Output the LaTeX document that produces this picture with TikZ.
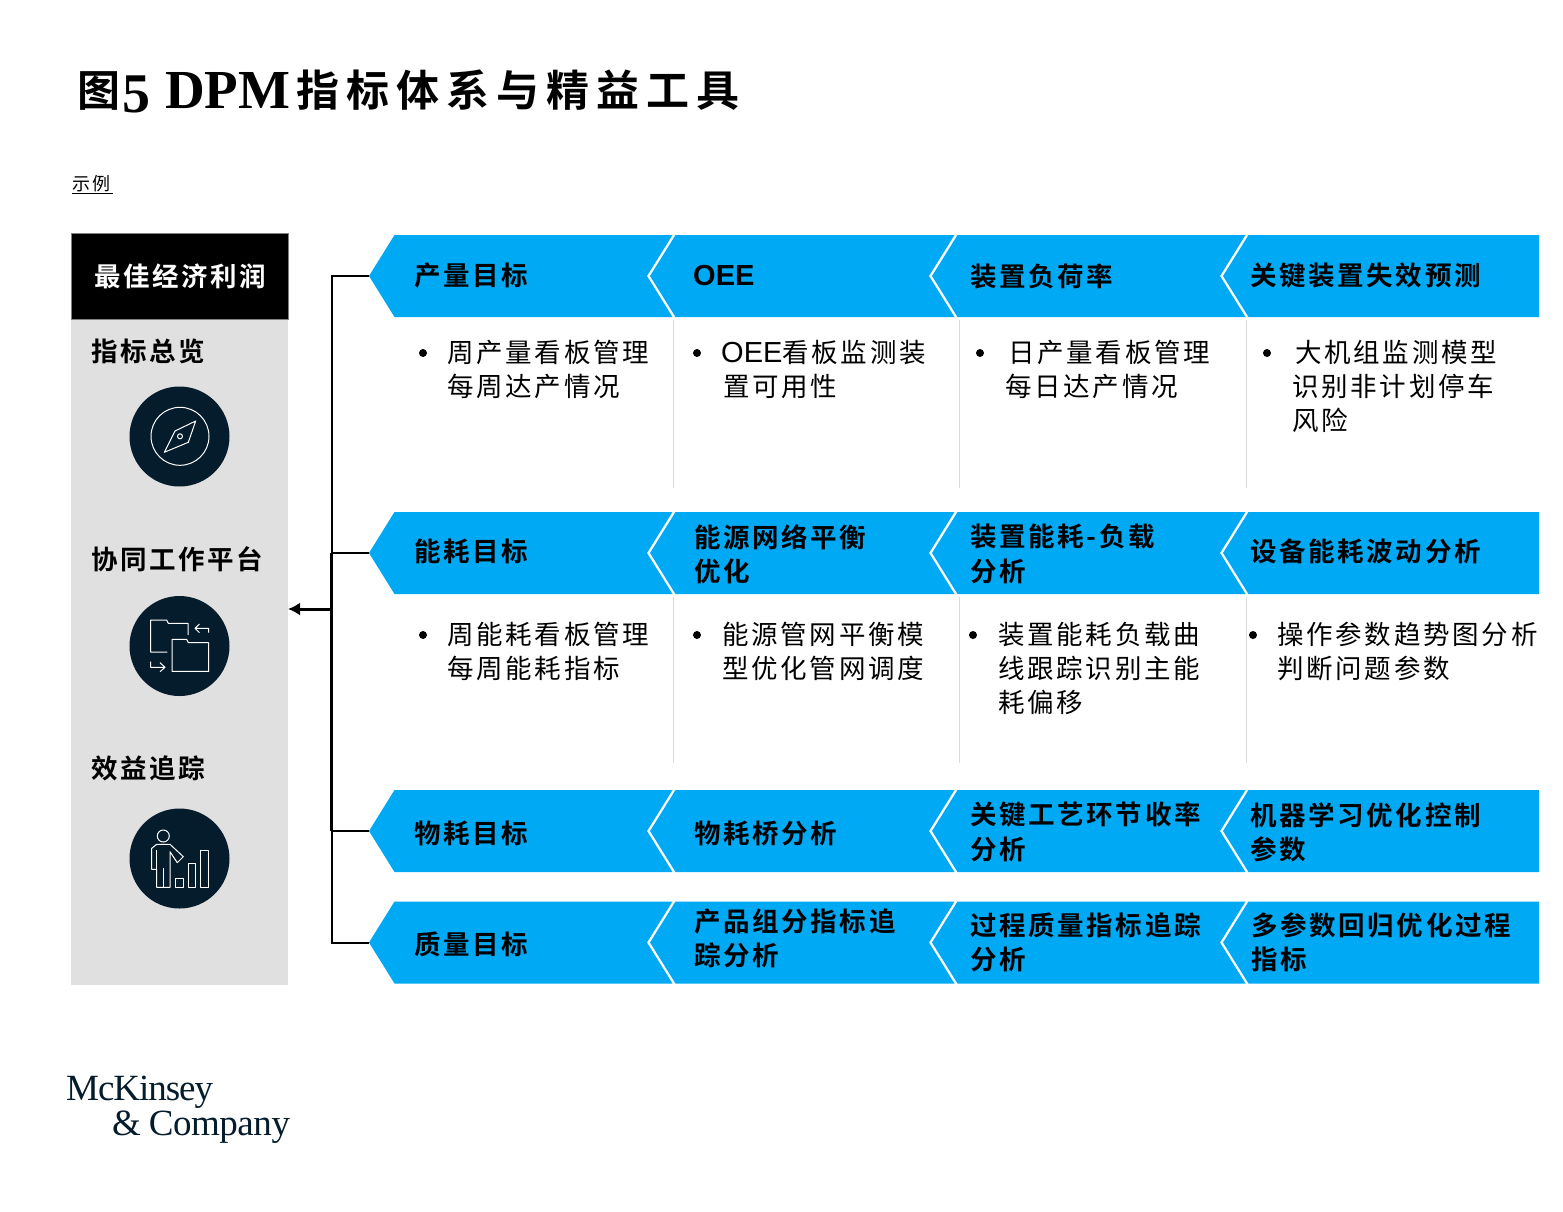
\documentclass[tikz,border=0pt]{standalone}
\usepackage{fontspec}
\usetikzlibrary{arrows.meta}
\newfontfamily\cjb[LetterSpace=10]{Noto Sans CJK SC Bold}
\newfontfamily\cjr[LetterSpace=10.3]{Noto Sans CJK SC}
\newfontfamily\cjt{Noto Sans CJK SC Bold}
\newfontfamily\cjs[LetterSpace=11]{Noto Sans CJK SC}
\newfontfamily\arb{Liberation Sans Bold}
\newfontfamily\arr{Liberation Sans}
\newfontfamily\lsb{Liberation Serif Bold}
\newfontfamily\logofont[LetterSpace=-2.8]{Liberation Serif}
\newfontfamily\logofontb[LetterSpace=-1.2]{Liberation Serif}
\definecolor{brandblue}{HTML}{00A9F4}
\definecolor{navy}{HTML}{051C2C}
\definecolor{panel}{HTML}{E0E0E0}
\definecolor{rulegray}{HTML}{D9D9D9}
\tikzset{
  txt/.style={anchor=west,inner sep=0pt,align=left},
  head/.style={txt,font=\cjb\fontsize{26.5}{34.3}\selectfont},
  body/.style={txt,font=\cjr\fontsize{26.5}{34.3}\selectfont},
  bul/.style={circle,fill=black,inner sep=0pt,minimum size=8pt},
  divider/.style={draw=rulegray,line width=1pt},
  badge/.style={circle,fill=navy,inner sep=0pt,minimum size=100pt},
  ico/.style={draw=white,line width=1pt,line join=round},
  wire/.style={draw=black,line width=2pt}
}
\newcommand\chev[4]{%
  \fill[brandblue] (#2,#4+41) -- (#2+25.5,#4) -- (#3+25.5,#4) -- (#3,#4+41) -- (#3+25.5,#4+82) -- (#2+25.5,#4+82) -- cycle;
  \coordinate (#1) at (#2,#4+41);}
\newcommand\lastchev[3]{%
  \fill[brandblue] (#2,#3+41) -- (#2+25.5,#3) -- (1539,#3) -- (1539,#3+82) -- (#2+25.5,#3+82) -- cycle;
  \coordinate (#1) at (#2,#3+41);}
\newcommand\chevrow[2]{%
  \chev{#1a}{369}{647}{#2}\chev{#1b}{650}{929}{#2}\chev{#1c}{932}{1220}{#2}\lastchev{#1d}{1223}{#2}}
\begin{document}
\begin{tikzpicture}[x=1pt,y=-1pt]
\useasboundingbox (0,0) rectangle (1563,1211);
% title
\node[txt,font=\cjt\fontsize{43}{43}\selectfont] (title) at (77,91) {图\hspace{2pt}{\lsb\raisebox{-6pt}{\fontsize{56}{56}\selectfont 5}\hspace{15pt}\raisebox{-2.5pt}{\fontsize{55}{55}\selectfont DPM}}\hspace{6pt}\addfontfeature{LetterSpace=16.3}指标体系与精益工具};
\node[txt,font=\cjs\fontsize{18}{18}\selectfont] (sample) at (72,184) {示例};
\coordinate (ula) at (72,193);
\coordinate (ulb) at (113,193);
\draw[black,line width=1pt] (ula) -- (ulb);
% left panel
\fill[panel] (71,234) rectangle (288,985);
\node[draw=gray,line width=1pt,fill=black,minimum width=217pt,minimum height=85.5pt,inner sep=0pt,anchor=north west] (goal) at (70.5,233) {};
\node[head,text=white] (goalt) at (94,276.5) {最佳经济利润};
\node[head] (s1) at (91,351.5) {指标总览};
\node[head] (s2) at (91,559.5) {协同工作平台};
\node[head] (s3) at (91,768) {效益追踪};
\node[badge] (b1) at (179.5,436.5) {};
\node[badge] (b2) at (179.5,646) {};
\node[badge] (b3) at (179.5,858.5) {};
% compass icon
\draw[ico] (180,436.3) circle (29);
\draw[ico] (195.7,421) -- (175,431) -- (164.3,452.3) -- (188.3,442.3) -- cycle;
\draw[ico] (180,436.3) circle (2.5);
% folders icon
\draw[ico] (188,635) -- (188,623.3) -- (168.3,623.3) -- (166.7,620) -- (150.7,620) -- (150.7,652) -- (167.3,652);
\draw[ico] (172,639.3) -- (186.7,639.3) -- (188.3,642.7) -- (208.7,642.7) -- (208.7,671.3) -- (172,671.3) -- cycle;
\draw[ico] (208.7,632.7) -- (208.7,628.3) -- (195,628.3) (199.5,624) -- (195,628.3) -- (199.5,632.7);
\draw[ico] (150.7,661.7) -- (150.7,667.3) -- (165,667.3) (160,662.7) -- (165,667.3) -- (160,671.7);
% person icon
\draw[ico] (163.3,836) circle (6);
\draw[ico] (156.7,844.3) -- (170,844.3) -- (183.3,856.7) -- (177.3,862.7) -- (170,851.7) -- (170,887.3) -- (156.7,887.3) -- (156.7,869.3) -- (151.7,869.3) -- (151.7,848.3) -- cycle;
\draw[ico] (156.7,850) -- (156.7,869.3) (163,868.3) -- (163,887.3);
\draw[ico] (175.7,878.3) rectangle (183.7,887.3);
\draw[ico] (188.3,863.7) rectangle (195.7,887.3);
\draw[ico] (200,850.7) rectangle (208,887.3);
% chevrons
\chevrow{ra}{235}
\chevrow{rb}{512}
\chevrow{rc}{790}
\chevrow{rd}{901.5}
% connectors
\coordinate (trunkA) at (331.5,276);
\coordinate (trunkD) at (331.5,942.5);
\coordinate (trunkM) at (331.5,609);
\coordinate (panelR) at (288,609);
\draw[wire] (raa) -- (trunkA) -- (trunkD) -- (rda);
\draw[wire] (rba) -- (rba -| trunkA);
\draw[wire] (rca) -- (rca -| trunkA);
\draw[draw=black,line width=3pt] (rba -| trunkA) -- (rca -| trunkA);
\draw[draw=black,line width=3pt,-{Latex[length=12pt,width=13pt]}] (trunkM) -- (panelR);
% dividers
\foreach \x/\n in {673.5/a,959.5/b,1246/c}{
  \draw[divider] (\x,320) coordinate (dt\n) -- (\x,488) coordinate (db\n);
  \draw[divider] (\x,597) coordinate (et\n) -- (\x,763) coordinate (eb\n);
}
% row 1
\node[head] (h11) at (414,276) {产量目标};
\node[txt,font=\arb\fontsize{29}{34}\selectfont] (h12) at (693,276) {OEE};
\node[head] (h13) at (970,276) {装置负荷率};
\node[head] (h14) at (1250,276) {关键装置失效预测};
\node[bul] (p11) at (423,353) {};
\node[body] (t11) at (447,369.5) {周产量看板管理\\每周达产情况};
\node[bul] (p12) at (697,353) {};
\node[body] (t12) at (721,369.5) {{\arr\fontsize{29}{34}\selectfont OEE}看板监测装\\\hspace{2pt}置可用性};
\node[bul] (p13) at (980,353) {};
\node[body] (t13) at (1005,369.5) {\hspace{3pt}日产量看板管理\\每日达产情况};
\node[bul] (p14) at (1267,353) {};
\node[body] (t14) at (1292,386.5) {\hspace{3pt}大机组监测模型\\识别非计划停车\\风险};
% row 2
\node[head] (h21) at (414,551) {能耗目标};
\node[head] (h22) at (694,554) {能源网络平衡\\优化};
\node[head] (h23) at (970,554) {装置能耗-负载\\分析};
\node[head] (h24) at (1250,551) {设备能耗波动分析};
\node[bul] (p21) at (423,635) {};
\node[body] (t21) at (447,651.5) {周能耗看板管理\\每周能耗指标};
\node[bul] (p22) at (697,635) {};
\node[body] (t22) at (722,651.5) {能源管网平衡模\\型优化管网调度};
\node[bul] (p23) at (973,635) {};
\node[body] (t23) at (998,668.5) {装置能耗负载曲\\线跟踪识别主能\\耗偏移};
\node[bul] (p24) at (1253,635) {};
\node[body] (t24) at (1277,651.5) {操作参数趋势图分析\\判断问题参数};
% row 3
\node[head] (h31) at (414,833) {物耗目标};
\node[head] (h32) at (694,833) {物耗桥分析};
\node[head] (h33) at (970,832) {关键工艺环节收率\\分析};
\node[head] (h34) at (1250,832) {机器学习优化控制\\参数};
% row 4
\node[head] (h41) at (414,944) {质量目标};
\node[head] (h42) at (694,938) {产品组分指标追\\踪分析};
\node[head] (h43) at (970,942) {过程质量指标追踪\\分析};
\node[head] (h44) at (1251,942) {多参数回归优化过程\\指标};
% logo
\node[txt,font=\logofont\fontsize{37}{37}\selectfont,text=navy] (logo1) at (66,1092) {McKinsey};
\node[txt,font=\logofontb\fontsize{37}{37}\selectfont,text=navy] (logo2) at (112,1127) {\&\hspace{-1pt} Company};
\end{tikzpicture}
\end{document}
